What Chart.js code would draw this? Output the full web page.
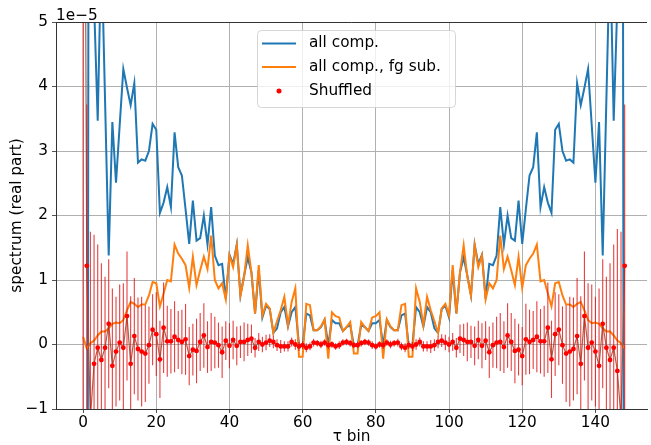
<!DOCTYPE html>
<html>
<head>
<meta charset="utf-8">
<script src="https://cdn.jsdelivr.net/npm/chart.js@4.4.0/dist/chart.umd.min.js"></script>
<style>
  html, body { margin: 0; padding: 0; background: #fff; }
  canvas { display: block; }
</style>
</head>
<body>
<canvas id="chart" width="651" height="445"></canvas>
<script>
// values are in units of 1e-5 (shown as the offset text above the axis)
const TAU_BINS = Array.from({length: 149}, (_, i) => i);
const X_TICKS = [0, 20, 40, 60, 80, 100, 120, 140];
const Y_TICKS = [-1, 0, 1, 2, 3, 4, 5];

const allComp = [
  -3, -15, 30, 5.3, 3.47, 6.2, 3.8, 1.38, 3.45, 2.51,
  3.4, 4.27, 3.98, 3.71, 4.05, 2.82, 2.87, 2.85, 3.0, 3.42,
  3.33, 2.04, 2.2, 2.44, 2.13, 3.29, 2.75, 2.62, 2.1, 1.56,
  2.23, 1.61, 1.65, 2.0, 1.55, 2.13, 1.38, 1.23, 1.25, 0.71,
  1.39, 1.25, 1.55, 0.76, 1.07, 1.35, 1.12, 0.48, 1.15, 0.42,
  0.6, 0.55, 0.18, 0.25, 0.5, 0.58, 0.28, 0.5, 0.58, 0.0,
  -0.02, 0.48, 0.45, 0.22, 0.22, 0.27, 0.38, -0.01, 0.38, 0.33,
  0.33, 0.21, 0.27, 0.3, -0.02,
  -0.02, 0.3, 0.27, 0.21, 0.33, 0.33, 0.38, -0.01, 0.38, 0.27,
  0.22, 0.22, 0.45, 0.48, -0.02, 0.0, 0.58, 0.5, 0.28, 0.58,
  0.5, 0.25, 0.18, 0.55, 0.6, 0.42, 1.15, 0.48, 1.12, 1.35,
  1.07, 0.76, 1.55, 1.25, 1.39, 0.71, 1.25, 1.23, 1.38, 2.13,
  1.55, 2.0, 1.65, 1.61, 2.23, 1.56, 2.1, 2.62, 2.75, 3.29,
  2.13, 2.44, 2.2, 2.04, 3.33, 3.42, 3.0, 2.85, 2.87, 2.82,
  4.05, 3.71, 3.98, 4.27, 3.4, 2.51, 3.45, 1.38, 3.8, 6.2,
  3.47, 5.3, 30, -15
];

const fgSub = [
  0.12, -0.06, 0.02, 0.06, 0.14, 0.2, 0.2, 0.25, 0.32, 0.34,
  0.33, 0.38, 0.53, 0.66, 0.63, 0.58, 0.62, 0.62, 0.76, 0.97,
  0.95, 0.59, 0.79, 1.0, 0.98, 1.55, 1.41, 1.33, 1.23, 0.88,
  1.36, 0.92, 1.15, 1.36, 1.17, 1.69, 1.0, 0.87, 0.95, 0.7,
  1.38, 1.2, 1.54, 0.76, 1.05, 1.54, 1.12, 0.48, 1.23, 0.45,
  0.63, 0.56, 0.18, 0.36, 0.53, 0.74, 0.3, 0.66, 0.87, -0.19,
  -0.19, 0.63, 0.61, 0.22, 0.22, 0.28, 0.39, -0.22, 0.5, 0.44,
  0.42, 0.21, 0.27, 0.35, -0.14,
  -0.14, 0.35, 0.27, 0.21, 0.42, 0.44, 0.5, -0.22, 0.39, 0.28,
  0.22, 0.22, 0.61, 0.63, -0.19, -0.19, 0.87, 0.66, 0.3, 0.74,
  0.53, 0.36, 0.18, 0.56, 0.63, 0.45, 1.23, 0.48, 1.12, 1.54,
  1.05, 0.76, 1.54, 1.2, 1.38, 0.7, 0.95, 0.87, 1.0, 1.69,
  1.17, 1.36, 1.15, 0.92, 1.36, 0.88, 1.23, 1.33, 1.41, 1.55,
  0.98, 1.0, 0.79, 0.59, 0.95, 0.97, 0.76, 0.62, 0.62, 0.58,
  0.63, 0.66, 0.53, 0.38, 0.33, 0.34, 0.32, 0.25, 0.2, 0.2,
  0.14, 0.06, 0.02, -0.06
];

const shuffled = [
  15, 1.22, -1.15, -0.3, -0.05, -0.24, -0.05, 0.32, -0.33, -0.11,
  0.03, -0.05, 0.44, -0.3, 0.13, -0.07, -0.11, -0.14, -0.01, 0.23,
  0.16, -0.23, 0.26, 0.05, 0.05, 0.12, 0.07, 0.04, 0.08, -0.18,
  -0.08, -0.1, 0.04, 0.14, -0.04, 0.04, 0.03, -0.01, -0.12, 0.06,
  -0.02, 0.07, -0.02, 0.04, 0.04, 0.07, 0.09, -0.05, 0.04, 0.0,
  0.03, 0.06, 0.04, -0.01, -0.03, -0.03, -0.03, 0.04, 0.0, -0.03,
  -0.01, -0.05, -0.03, 0.03, 0.02, 0.0, 0.03, -0.01, 0.0, -0.03,
  -0.01, 0.03, 0.04, 0.02, -0.01,
  -0.01, 0.02, 0.04, 0.03, -0.01, -0.03, 0.0, -0.01, 0.03, 0.0,
  0.02, 0.03, -0.03, -0.05, -0.01, -0.03, 0.0, 0.04, -0.03, -0.03,
  -0.03, -0.01, 0.04, 0.06, 0.03, 0.0, 0.04, -0.05, 0.09, 0.07,
  0.04, 0.04, -0.02, 0.07, -0.02, 0.06, -0.12, -0.01, 0.03, 0.04,
  -0.04, 0.14, 0.04, -0.1, -0.08, -0.18, 0.08, 0.04, 0.07, 0.12,
  0.05, 0.05, 0.26, -0.23, 0.16, 0.23, -0.01, -0.14, -0.11, -0.07,
  0.13, -0.3, 0.44, -0.05, 0.03, -0.11, -0.33, 0.32, -0.05, -0.24,
  -0.05, -0.41, -1.15, 1.22
];

const shuffledErr = [
  30, 2.5, 2.9, 2.0, 1.6, 1.5, 1.1, 1.0, 1.2, 0.85,
  0.9, 1.0, 1.0, 1.05, 0.9, 0.8, 0.85, 0.75, 0.6, 0.55,
  0.65, 0.6, 0.7, 0.55, 0.5, 0.55, 0.45, 0.5, 0.55, 0.45,
  0.4, 0.5, 0.45, 0.5, 0.4, 0.45, 0.4, 0.35, 0.4, 0.3,
  0.35, 0.3, 0.3, 0.25, 0.3, 0.25, 0.22, 0.15, 0.14, 0.12,
  0.12, 0.1, 0.1, 0.09, 0.1, 0.08, 0.08, 0.07, 0.08, 0.07,
  0.06, 0.07, 0.06, 0.06, 0.05, 0.06, 0.05, 0.06, 0.05, 0.05,
  0.06, 0.05, 0.05, 0.05, 0.05,
  0.05, 0.05, 0.05, 0.05, 0.06, 0.05, 0.05, 0.06, 0.05, 0.06,
  0.05, 0.06, 0.06, 0.07, 0.06, 0.07, 0.08, 0.07, 0.08, 0.08,
  0.1, 0.09, 0.1, 0.1, 0.12, 0.12, 0.14, 0.15, 0.22, 0.25,
  0.3, 0.25, 0.3, 0.3, 0.35, 0.3, 0.4, 0.35, 0.4, 0.45,
  0.4, 0.5, 0.45, 0.5, 0.4, 0.45, 0.55, 0.5, 0.45, 0.55,
  0.5, 0.55, 0.7, 0.6, 0.65, 0.55, 0.6, 0.75, 0.85, 0.8,
  0.9, 1.05, 1.0, 1.0, 0.9, 0.85, 1.2, 1.0, 1.1, 1.5,
  1.6, 2.2, 2.9, 2.5
];

const FONT = 'DejaVu Sans';
const FS = 15.3;

function pts(vals) {
  return TAU_BINS.map((t, i) => ({x: t, y: vals[i]}));
}

function minusSign(v) {
  return v < 0 ? '\u2212' + Math.abs(v) : String(v);
}

// error bars of the shuffled series, drawn right after the connecting line
const errorBars = {
  id: 'errorBars',
  afterDatasetDraw(chart, args) {
    if (args.index !== 2) return;
    const {ctx, chartArea: a, scales: {x, y}} = chart;
    ctx.save();
    ctx.beginPath();
    ctx.rect(a.left, a.top, a.right - a.left, a.bottom - a.top);
    ctx.clip();
    ctx.strokeStyle = 'rgba(222,16,16,0.8)';
    ctx.lineWidth = 1.1;
    TAU_BINS.forEach((t, i) => {
      const px = x.getPixelForValue(t);
      ctx.beginPath();
      ctx.moveTo(px, y.getPixelForValue(shuffled[i] - shuffledErr[i]));
      ctx.lineTo(px, y.getPixelForValue(shuffled[i] + shuffledErr[i]));
      ctx.stroke();
    });
    ctx.restore();
  }
};

// top spine, offset text and the legend box
const decorations = {
  id: 'decorations',
  afterDraw(chart) {
    const {ctx, chartArea: a} = chart;
    ctx.save();
    ctx.strokeStyle = '#333';
    ctx.lineWidth = 1;
    ctx.beginPath();
    ctx.moveTo(a.left, a.top + 0.5);
    ctx.lineTo(a.right, a.top + 0.5);
    ctx.stroke();

    ctx.fillStyle = '#000';
    ctx.font = `${FS}px "${FONT}"`;
    ctx.textAlign = 'left';
    ctx.textBaseline = 'alphabetic';
    ctx.fillText('1e\u22125', a.left, 19.5);

    // legend
    const bx = 257, by = 30, bw = 198, bh = 77, r = 4;
    ctx.fillStyle = 'rgba(255,255,255,0.8)';
    ctx.strokeStyle = 'rgba(204,204,204,0.8)';
    ctx.beginPath();
    ctx.roundRect(bx + 0.5, by + 0.5, bw, bh, r);
    ctx.fill();
    ctx.stroke();

    const rows = [
      {label: 'all comp.', color: '#1f77b4', type: 'line', y: 43.5},
      {label: 'all comp., fg sub.', color: '#ff7f0e', type: 'line', y: 67},
      {label: 'Shuffled', color: 'red', type: 'dot', y: 91}
    ];
    rows.forEach(row => {
      if (row.type === 'line') {
        ctx.strokeStyle = row.color;
        ctx.lineWidth = 2;
        ctx.beginPath();
        ctx.moveTo(262, row.y);
        ctx.lineTo(296, row.y);
        ctx.stroke();
      } else {
        ctx.fillStyle = row.color;
        ctx.beginPath();
        ctx.arc(279, row.y, 2.5, 0, Math.PI * 2);
        ctx.fill();
      }
      ctx.fillStyle = '#000';
      ctx.textBaseline = 'middle';
      ctx.fillText(row.label, 309, row.y);
    });
    ctx.restore();
  }
};

Chart.defaults.font.family = FONT;
Chart.defaults.font.size = FS;
Chart.defaults.color = '#000';

new Chart(document.getElementById('chart'), {
  type: 'line',
  data: {
    datasets: [
      {
        label: 'all comp.',
        data: pts(allComp),
        borderColor: '#1f77b4',
        borderWidth: 2,
        pointRadius: 0,
        tension: 0,
        clip: 0,
        order: 4
      },
      {
        label: 'all comp., fg sub.',
        data: pts(fgSub),
        borderColor: '#ff7f0e',
        borderWidth: 2,
        pointRadius: 0,
        tension: 0,
        clip: 0,
        order: 3
      },
      {
        label: 'shuffled line',
        data: pts(shuffled),
        borderColor: 'rgba(160,80,55,0.9)',
        borderWidth: 1.2,
        pointRadius: 0,
        tension: 0,
        clip: 0,
        order: 2
      },
      {
        label: 'Shuffled',
        data: pts(shuffled),
        showLine: false,
        pointRadius: 2.4,
        pointBackgroundColor: 'red',
        pointBorderWidth: 0,
        clip: 0,
        order: 1
      }
    ]
  },
  options: {
    responsive: false,
    animation: false,
    devicePixelRatio: 1,
    layout: {padding: {left: 0, top: 22, right: 0, bottom: 0}},
    plugins: {
      legend: {display: false},
      tooltip: {enabled: false}
    },
    scales: {
      x: {
        type: 'linear',
        min: -7.4,
        max: 154.1,
        afterBuildTicks: scale => { scale.ticks = X_TICKS.map(v => ({value: v})); },
        afterFit: scale => { scale.height = 36; },
        grid: {color: '#b0b0b0', lineWidth: 1, tickLength: 4, tickColor: '#555'},
        border: {color: '#333', width: 1},
        ticks: {padding: 1, maxRotation: 0, autoSkip: false, font: {size: FS}},
        title: {
          display: true,
          text: '\u03c4 bin',
          font: {size: FS, lineHeight: 1.0},
          padding: {top: 0, bottom: 0}
        }
      },
      y: {
        min: -1,
        max: 5,
        afterBuildTicks: scale => { scale.ticks = Y_TICKS.map(v => ({value: v})); },
        afterFit: scale => { scale.width = 56; },
        grid: {color: '#b0b0b0', lineWidth: 1, tickLength: 4, tickColor: '#555'},
        border: {color: '#333', width: 1},
        ticks: {padding: 4, callback: v => minusSign(v), font: {size: FS}},
        title: {
          display: true,
          text: 'spectrum (real part)',
          font: {size: FS, lineHeight: 1.0},
          padding: {top: 9, bottom: 0}
        }
      }
    }
  },
  plugins: [errorBars, decorations]
});
</script>
</body>
</html>
